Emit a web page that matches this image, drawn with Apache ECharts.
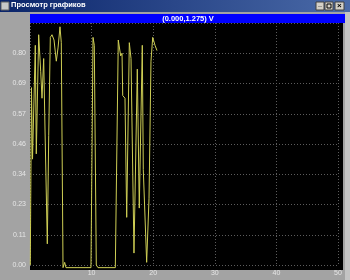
<!DOCTYPE html>
<html><head><meta charset="utf-8">
<script src="https://cdn.jsdelivr.net/npm/echarts@6/dist/echarts.min.js"></script>
<style>html,body{margin:0;padding:0;background:#a3a3a3;}#c{width:350px;height:280px;}</style>
</head><body><div id="c"></div>
<script>
const windowTitle = "Просмотр графиков";
const headerText = "(0.000,1.275) V";
const xTicks = [0, 10, 20, 30, 40, 50];
const yTickLabels = ["0.00","0.11","0.23","0.34","0.46","0.57","0.69","0.80"];
const signalX = [0.05,0.24,0.41,0.86,1.02,1.41,1.74,1.95,2.22,2.44,2.81,3.04,3.30,3.57,3.90,4.27,4.55,4.87,5.08,5.36,5.63,5.84,9.90,10.23,10.44,10.76,11.04,13.85,14.33,14.72,14.94,15.05,15.42,15.70,16.12,16.40,16.88,17.42,17.74,18.23,18.39,18.94,19.32,19.64,19.92,20.29,20.62];
const signalY = [0.00,0.67,0.40,0.83,0.42,0.87,0.73,0.63,0.78,0.51,0.08,0.49,0.86,0.87,0.85,0.77,0.82,0.90,0.84,-0.01,0.01,-0.01,-0.01,0.86,0.83,0.00,-0.01,-0.01,0.85,0.79,0.80,0.64,0.63,0.18,0.84,0.78,0.045,0.74,0.215,0.83,0.36,0.01,0.25,0.77,0.86,0.83,0.81];

const yStep = 0.8 / 7;
const chart = echarts.init(document.getElementById('c'), null, {renderer: 'canvas'});
const grid = {left: 30, top: 23, width: 308, height: 242};
chart.setOption({
  backgroundColor: '#a3a3a3',
  animation: false,
  graphic: [
    {type: 'rect', z: -10, shape: {x: 0, y: 0, width: 350, height: 12},
      style: {fill: {type: 'linear', x: 0, y: 0, x2: 1, y2: 0, colorStops: [{offset: 0, color: '#0a246a'}, {offset: 1, color: '#4a6aa8'}]}}},
    {type: 'rect', z: -9, shape: {x: 1, y: 2, width: 8, height: 8}, style: {fill: '#c8c8c8', stroke: '#606060'}},
    {type: 'text', left: 11, top: 1, style: {text: windowTitle, fill: '#ffffff', font: 'bold 7.5px "Liberation Sans", Arial, sans-serif'}},
    {type: 'rect', shape: {x: 316, y: 2, width: 8, height: 8}, style: {fill: '#d4d0c8', stroke: '#404040'}},
    {type: 'rect', shape: {x: 325, y: 2, width: 8, height: 8}, style: {fill: '#d4d0c8', stroke: '#404040'}},
    {type: 'rect', shape: {x: 335, y: 2, width: 9, height: 8}, style: {fill: '#d4d0c8', stroke: '#404040'}},
    {type: 'text', x: 318, y: 1, style: {text: '_', fill: '#000', font: 'bold 7px sans-serif'}},
    {type: 'rect', shape: {x: 327, y: 4, width: 4, height: 4}, style: {fill: 'none', stroke: '#000'}},
    {type: 'text', x: 337, y: 2, style: {text: '×', fill: '#000', font: 'bold 8px sans-serif'}},
    {type: 'rect', z: -10, shape: {x: 30, y: 14, width: 315, height: 9}, style: {fill: '#0000ff'}},
    {type: 'text', x: 188, y: 18.5, style: {text: headerText, fill: '#ffffff', align: 'center', verticalAlign: 'middle', font: 'bold 7.5px "Liberation Sans", Arial, sans-serif'}},
    {type: 'rect', z: -10, shape: {x: 30, y: 23, width: 313, height: 247}, style: {fill: '#000000'}},
    {type: 'rect', z: -10, shape: {x: 345, y: 12, width: 5, height: 268}, style: {fill: '#c4c4c4'}}
  ],
  grid: grid,
  xAxis: {
    type: 'value', min: xTicks[0], max: xTicks[xTicks.length - 1], interval: 10,
    axisLine: {show: false}, axisTick: {show: false},
    axisLabel: {showMinLabel: false, color: '#e6e6e6', fontSize: 7, margin: 5, fontFamily: 'Liberation Sans, Arial, sans-serif'},
    splitLine: {show: true, lineStyle: {color: '#5c5c5c', type: [1, 2], width: 1}}
  },
  yAxis: {
    type: 'value', min: 0, max: yStep * 8, interval: yStep,
    axisLine: {show: false}, axisTick: {show: false},
    axisLabel: {showMaxLabel: false, color: '#e6e6e6', fontSize: 7, margin: 4, fontFamily: 'Liberation Sans, Arial, sans-serif',
      formatter: function (v) { const i = Math.round(v / yStep); return i < yTickLabels.length ? yTickLabels[i] : ''; }},
    splitLine: {show: true, lineStyle: {color: '#5c5c5c', type: [1, 2], width: 1}}
  },
  series: [{
    type: 'line', clip: false, symbol: 'none', smooth: false,
    lineStyle: {color: '#cfcf55', width: 1},
    data: signalX.map((x, i) => [x, signalY[i]])
  }]
});
</script></body></html>
